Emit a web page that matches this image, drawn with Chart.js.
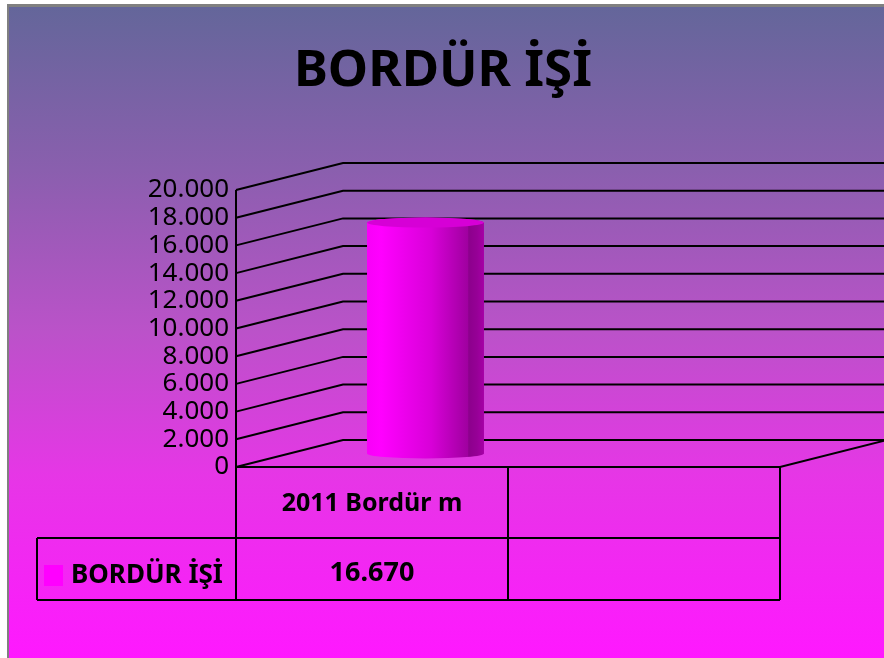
<!DOCTYPE html>
<html>
<head>
<meta charset="utf-8">
<title>BORDÜR İŞİ</title>
<script src="https://cdn.jsdelivr.net/npm/chart.js@4.4.1/dist/chart.umd.min.js"></script>
<style>
  html, body { margin: 0; padding: 0; background: #fff; }
  canvas { display: block; }
</style>
</head>
<body>
<canvas id="chart1" width="884" height="658"></canvas>
<script>
// data
const chartTitle = 'BORDÜR İŞİ';
const categories = ['2011 Bordür m', ''];
const seriesName = 'BORDÜR İŞİ';
const seriesValues = [16670, null];
const yTicks = [0, 2000, 4000, 6000, 8000, 10000, 12000, 14000, 16000, 18000, 20000];

// 3d depth of the walls
const DX = 107;
const DY = -27;
const ROW1 = 71;
const ROW2 = 62;
const FONT = "'Noto Sans', 'DejaVu Sans', sans-serif";

let fmt = (v) => String(v).replace(/\B(?=(\d{3})+(?!\d))/g, '.');

const background = {
  id: 'background',
  beforeDraw: (chart) => {
    const ctx = chart.ctx;
    const w = chart.width, h = chart.height;
    ctx.save();
    ctx.fillStyle = '#ffffff';
    ctx.fillRect(0, 0, w, h);
    ctx.fillStyle = '#808080';
    ctx.fillRect(7, 4, w, h);
    let g = ctx.createLinearGradient(0, 7, 0, h);
    g.addColorStop(0, '#64669a');
    g.addColorStop(0.25, '#8a5fae');
    g.addColorStop(0.5, '#bb52c9');
    g.addColorStop(0.72, '#e636e6');
    g.addColorStop(1, '#ff18ff');
    ctx.fillStyle = g;
    ctx.fillRect(9, 7, w, h);

    // title, centred on the whole page
    ctx.fillStyle = '#000';
    ctx.textAlign = 'center';
    ctx.textBaseline = 'alphabetic';
    ctx.font = 'bold 51px ' + FONT;
    ctx.fillText(chartTitle, w / 2 + 1, 86);
    ctx.restore();
  }
};

const walls = {
  id: 'walls',
  beforeDatasetsDraw: (chart) => {
    const ctx = chart.ctx;
    const a = chart.chartArea;
    const y = chart.scales.y;
    ctx.save();
    ctx.strokeStyle = '#000';
    ctx.lineWidth = 2;
    ctx.beginPath();
    y.ticks.forEach(t => {
      const py = y.getPixelForValue(t.value);
      ctx.moveTo(a.left, py);
      ctx.lineTo(a.left + DX, py + DY);
      ctx.lineTo(a.right + DX, py + DY);
    });
    // floor
    const p0 = y.getPixelForValue(0);
    ctx.moveTo(a.left, p0);
    ctx.lineTo(a.right, p0);
    ctx.lineTo(a.right + DX, p0 + DY);
    ctx.stroke();
    ctx.restore();
  }
};

const cylinders = {
  id: 'cylinders',
  afterDatasetsDraw: (chart) => {
    const ctx = chart.ctx;
    const meta = chart.getDatasetMeta(0);
    meta.data.forEach((bar, i) => {
      if (seriesValues[i] == null) return;
      const p = bar.getProps(['x', 'y', 'base', 'width'], true);
      const cx = p.x + DX / 2;
      const top = p.y + DY / 2;
      const bot = p.base + DY / 2;
      const hw = p.width / 2;
      const ry = 5;
      ctx.save();
      let g = ctx.createLinearGradient(cx - hw, 0, cx + hw, 0);
      g.addColorStop(0, '#f800f8');
      g.addColorStop(0.12, '#ff00ff');
      g.addColorStop(0.55, '#d800d8');
      g.addColorStop(0.86, '#a000a0');
      g.addColorStop(0.87, '#8c008c');
      g.addColorStop(0.94, '#960096');
      g.addColorStop(1, '#a600a6');
      ctx.fillStyle = g;
      ctx.beginPath();
      ctx.moveTo(cx - hw, top);
      ctx.lineTo(cx - hw, bot);
      ctx.ellipse(cx, bot, hw, ry, 0, Math.PI, 0, true);
      ctx.lineTo(cx + hw, top);
      ctx.ellipse(cx, top, hw, ry, 0, 0, -Math.PI, true);
      ctx.closePath();
      ctx.fill();
      ctx.fillStyle = '#d600d6';
      ctx.beginPath();
      ctx.ellipse(cx, top, hw, ry, 0, 0, Math.PI * 2);
      ctx.fill();
      ctx.restore();
    });
  }
};

const dataTable = {
  id: 'dataTable',
  afterDraw: (chart) => {
    const ctx = chart.ctx;
    const a = chart.chartArea;
    const x = chart.scales.x;
    const half = (x.getPixelForValue(1) - x.getPixelForValue(0)) / 2;
    const r0 = a.bottom, r1 = r0 + ROW1, r2 = r1 + ROW2;
    const legLeft = 37;
    ctx.save();
    ctx.strokeStyle = '#000';
    ctx.lineWidth = 2;
    ctx.beginPath();
    // axis line through the table
    ctx.moveTo(a.left, a.top);
    ctx.lineTo(a.left, r2);
    categories.forEach((c, i) => {
      const right = x.getPixelForValue(i) + half;
      ctx.moveTo(right, r0);
      ctx.lineTo(right, r2);
    });
    ctx.moveTo(legLeft, r1);
    ctx.lineTo(a.right, r1);
    ctx.moveTo(legLeft, r2);
    ctx.lineTo(a.right, r2);
    ctx.moveTo(legLeft, r1);
    ctx.lineTo(legLeft, r2);
    ctx.stroke();

    ctx.fillStyle = '#000';
    ctx.textAlign = 'center';
    ctx.textBaseline = 'middle';
    ctx.font = 'bold 25px ' + FONT;
    categories.forEach((c, i) => {
      const cx = x.getPixelForValue(i);
      ctx.fillText(c, cx, (r0 + r1) / 2 + 1);
      if (seriesValues[i] != null) {
        ctx.font = 'bold 27px ' + FONT;
        ctx.fillText(fmt(seriesValues[i]), cx, (r1 + r2) / 2 + 4);
        ctx.font = 'bold 25px ' + FONT;
      }
    });
    // legend key
    ctx.fillStyle = '#ff00ff';
    ctx.fillRect(44, (r1 + r2) / 2 - 4, 19, 21);
    ctx.fillStyle = '#000';
    ctx.textAlign = 'left';
    ctx.font = 'bold 26px ' + FONT;
    ctx.fillText(seriesName, 71, (r1 + r2) / 2 + 7);
    ctx.restore();
  }
};

let chart = new Chart(document.getElementById('chart1'), {
  type: 'bar',
  data: {
    labels: categories,
    datasets: [{
      label: seriesName,
      data: seriesValues,
      backgroundColor: 'rgba(0,0,0,0)',
      borderWidth: 0,
      barPercentage: 0.43,
      categoryPercentage: 1
    }]
  },
  options: {
    responsive: false,
    animation: false,
    devicePixelRatio: 1,
    layout: { padding: { left: 0, right: 104, top: 190, bottom: 191 } },
    plugins: {
      legend: { display: false },
      tooltip: { enabled: false },
      title: { display: false }
    },
    scales: {
      x: { display: false },
      y: {
        min: 0,
        max: 20000,
        afterFit: (scale) => { scale.width = 236; },
        afterBuildTicks: (scale) => { scale.ticks = yTicks.map(v => ({ value: v })); },
        grid: { display: false, drawTicks: false },
        border: { display: false },
        ticks: {
          autoSkip: false,
          color: '#000',
          padding: 7,
          font: { family: FONT, size: 26, lineHeight: 1 },
          callback: (v) => fmt(v)
        }
      }
    }
  },
  plugins: [background, walls, cylinders, dataTable]
});
</script>
</body>
</html>
